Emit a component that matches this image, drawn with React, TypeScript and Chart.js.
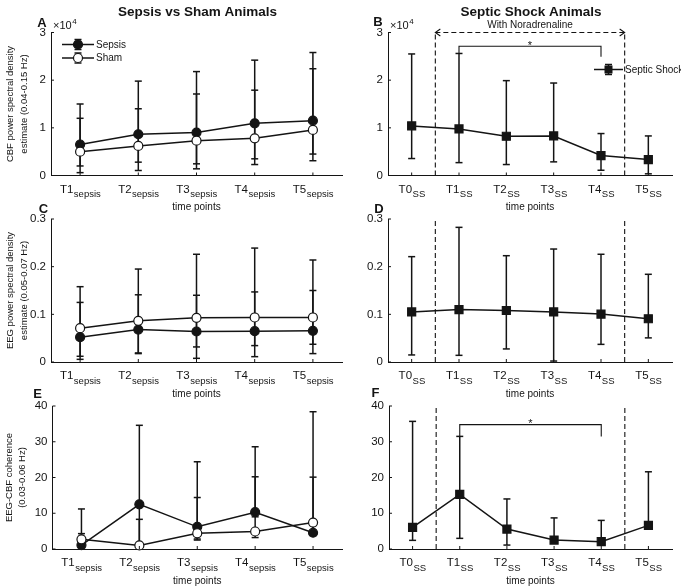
import React, { useEffect, useRef } from 'react';
import { Chart, registerables } from 'chart.js';
Chart.register(...registerables);

const W = 681;
const H = 587;
const FONT = '"Liberation Sans", Arial, Helvetica, sans-serif';
const INK = '#141414';
const Y_AXIS_W = 40;

// ---------- categories / tick labels ----------
const sepsisTimes = ['T1', 'T2', 'T3', 'T4', 'T5'];
const shockTimes = ['T0', 'T1', 'T2', 'T3', 'T4', 'T5'];
const sepsisSub = 'sepsis';
const shockSub = 'SS';
const cbfTicks = [0, 1, 2, 3];
const eegTicks = [0, 0.1, 0.2, 0.3];
const cohTicks = [0, 10, 20, 30, 40];
const noradrenalineWindow = [0.5, 4.5];

// ---------- A: CBF PSD (x10^4), sepsis vs sham ----------
const cbfSepsisMean = [0.65, 0.865, 0.9, 1.095, 1.15];
const cbfSepsisLow = [0.06, 0.28, 0.245, 0.35, 0.45];
const cbfSepsisHigh = [1.5, 1.98, 2.18, 2.42, 2.58];
const cbfShamMean = [0.5, 0.62, 0.73, 0.78, 0.956];
const cbfShamLow = [0.2, 0.105, 0.14, 0.23, 0.31];
const cbfShamHigh = [1.2, 1.4, 1.71, 1.79, 2.24];

// ---------- B: CBF PSD (x10^4), septic shock ----------
const cbfShockMean = [1.04, 0.977, 0.823, 0.83, 0.419, 0.335];
const cbfShockLow = [0.356, 0.27, 0.23, 0.286, 0.11, 0.035];
const cbfShockHigh = [2.55, 2.56, 1.99, 1.94, 0.88, 0.83];

// ---------- C: EEG PSD, sepsis vs sham ----------
const eegSepsisMean = [0.052, 0.068, 0.064, 0.0646, 0.0653];
const eegSepsisLow = [0.0056, 0.0176, 0.0077, 0.0112, 0.0176];
const eegSepsisHigh = [0.125, 0.141, 0.14, 0.147, 0.15];
const eegShamMean = [0.071, 0.0864, 0.0927, 0.0934, 0.0934];
const eegShamLow = [0.012, 0.019, 0.0316, 0.0344, 0.0372];
const eegShamHigh = [0.158, 0.195, 0.226, 0.239, 0.214];

// ---------- D: EEG PSD, septic shock ----------
const eegShockMean = [0.105, 0.11, 0.108, 0.105, 0.1005, 0.0907];
const eegShockLow = [0.0148, 0.014, 0.0274, 0.002, 0.037, 0.0506];
const eegShockHigh = [0.221, 0.2825, 0.223, 0.237, 0.226, 0.184];

// ---------- E: EEG-CBF coherence, sepsis vs sham ----------
const cohSepsisMean = [1.1, 12.5, 6.2, 10.3, 4.55];
const cohSepsisLow = [0.6, 0.9, 2.5, 9.0, 3.8];
const cohSepsisHigh = [4.3, 34.6, 24.4, 28.6, 20.1];
const cohShamMean = [2.7, 1.0, 4.4, 4.9, 7.4];
const cohShamLow = [2.0, 0.5, 2.8, 3.2, 4.2];
const cohShamHigh = [11.2, 8.3, 14.4, 20.2, 38.4];

// ---------- F: EEG-CBF coherence, septic shock ----------
const cohShockMean = [6.05, 15.26, 5.58, 2.51, 2.05, 6.6];
const cohShockLow = [2.42, 2.98, 1.1, 2.2, 1.4, 6.6];
const cohShockHigh = [35.7, 31.5, 14.0, 8.7, 8.0, 21.6];

// significance brackets (category from/to, bracket level, leg ends)
const bracketB = { from: 1, to: 4, level: 2.71, leftEnd: 2.56, rightEnd: 2.49 };
const bracketF = { from: 1, to: 4, level: 34.8, leftEnd: 31.5, rightEnd: 31.5 };

type Marker = 'filled' | 'open' | 'square';
interface Series { label: string; mean: number[]; low: number[]; high: number[]; marker: Marker; }
interface Panel {
  key: string;
  box: { l: number; t: number; r: number; b: number };
  times: string[];
  sub: string;
  ticks: number[];
  series: Series[];
  yTitle?: string[];
  yTitleX?: number[];
  exponent?: boolean;
  window?: number[];
  arrow?: boolean;
  bracket?: { from: number; to: number; level: number; leftEnd: number; rightEnd: number };
  legend?: 'pair' | 'single';
  heading?: string;
  letterPos: number[];
}

const sepsis = (mean: number[], low: number[], high: number[]): Series => ({ label: 'Sepsis', mean, low, high, marker: 'filled' });
const sham = (mean: number[], low: number[], high: number[]): Series => ({ label: 'Sham', mean, low, high, marker: 'open' });
const shock = (mean: number[], low: number[], high: number[]): Series => ({ label: 'Septic Shock', mean, low, high, marker: 'square' });

const panels: Panel[] = [
  {
    key: 'A', box: { l: 51, t: 32.5, r: 342, b: 175.5 }, times: sepsisTimes, sub: sepsisSub, ticks: cbfTicks,
    series: [sham(cbfShamMean, cbfShamLow, cbfShamHigh), sepsis(cbfSepsisMean, cbfSepsisLow, cbfSepsisHigh)],
    yTitle: ['CBF power spectral density', 'estimate (0.04-0.15 Hz)'], yTitleX: [10, 24],
    exponent: true, legend: 'pair', heading: 'Sepsis vs Sham Animals', letterPos: [42, 23.5],
  },
  {
    key: 'B', box: { l: 388, t: 32.5, r: 672, b: 175.5 }, times: shockTimes, sub: shockSub, ticks: cbfTicks,
    series: [shock(cbfShockMean, cbfShockLow, cbfShockHigh)],
    exponent: true, window: noradrenalineWindow, arrow: true, bracket: bracketB, legend: 'single',
    heading: 'Septic Shock Animals', letterPos: [378, 22.5],
  },
  {
    key: 'C', box: { l: 51, t: 219, r: 342, b: 362 }, times: sepsisTimes, sub: sepsisSub, ticks: eegTicks,
    series: [sham(eegShamMean, eegShamLow, eegShamHigh), sepsis(eegSepsisMean, eegSepsisLow, eegSepsisHigh)],
    yTitle: ['EEG power spectral density', 'estimate (0.05-0.07 Hz)'], yTitleX: [10, 24], letterPos: [43.5, 209.5],
  },
  {
    key: 'D', box: { l: 388, t: 219, r: 672, b: 362 }, times: shockTimes, sub: shockSub, ticks: eegTicks,
    series: [shock(eegShockMean, eegShockLow, eegShockHigh)], window: noradrenalineWindow, letterPos: [379, 209],
  },
  {
    key: 'E', box: { l: 52.5, t: 406, r: 342, b: 549 }, times: sepsisTimes, sub: sepsisSub, ticks: cohTicks,
    series: [sham(cohShamMean, cohShamLow, cohShamHigh), sepsis(cohSepsisMean, cohSepsisLow, cohSepsisHigh)],
    yTitle: ['EEG-CBF coherence', '(0.03-0.06 Hz)'], yTitleX: [9, 22], letterPos: [37.5, 394.5],
  },
  {
    key: 'F', box: { l: 389, t: 406, r: 672, b: 549 }, times: shockTimes, sub: shockSub, ticks: cohTicks,
    series: [shock(cohShockMean, cohShockLow, cohShockHigh)], window: noradrenalineWindow, bracket: bracketF,
    letterPos: [375.5, 393.5],
  },
];

function seg(ctx: CanvasRenderingContext2D, x1: number, y1: number, x2: number, y2: number) {
  ctx.beginPath();
  ctx.moveTo(x1, y1);
  ctx.lineTo(x2, y2);
  ctx.stroke();
}

function drawMarker(ctx: CanvasRenderingContext2D, x: number, y: number, m: Marker) {
  ctx.save();
  ctx.lineWidth = 1.2;
  ctx.strokeStyle = INK;
  if (m === 'square') {
    ctx.fillStyle = INK;
    ctx.fillRect(x - 4, y - 4, 8, 8);
  } else {
    ctx.beginPath();
    ctx.arc(x, y, 4.5, 0, Math.PI * 2);
    ctx.fillStyle = m === 'open' ? '#ffffff' : INK;
    ctx.fill();
    ctx.stroke();
  }
  ctx.restore();
}

function drawLegendEntry(ctx: CanvasRenderingContext2D, x0: number, x1: number, y: number, s: Series) {
  ctx.save();
  ctx.strokeStyle = INK;
  ctx.lineWidth = 1.5;
  seg(ctx, x0, y, x1, y);
  const xm = (x0 + x1) / 2;
  seg(ctx, xm, y - 5, xm, y + 5);
  seg(ctx, xm - 3.5, y - 5, xm + 3.5, y - 5);
  seg(ctx, xm - 3.5, y + 5, xm + 3.5, y + 5);
  drawMarker(ctx, xm, y, s.marker);
  ctx.fillStyle = INK;
  ctx.font = `10px ${FONT}`;
  ctx.textAlign = 'left';
  ctx.textBaseline = 'middle';
  ctx.fillText(s.label, x1 + 2, y + 0.5);
  ctx.restore();
}

function makePlugin(p: Panel) {
  return {
    id: 'decor' + p.key,
    beforeDatasetsDraw(chart: any) {
      const { ctx, scales } = chart;
      const x = scales.x;
      const y = scales.y;
      const yMax = p.ticks[p.ticks.length - 1];
      ctx.save();
      ctx.strokeStyle = INK;
      if (p.window) {
        ctx.setLineDash([5, 3]);
        ctx.lineWidth = 1.1;
        for (const v of p.window) {
          const px = x.getPixelForValue(v);
          seg(ctx, px, y.getPixelForValue(0), px, y.getPixelForValue(yMax));
        }
        ctx.setLineDash([]);
      }
      ctx.lineWidth = 1.5;
      for (const s of p.series) {
        s.mean.forEach((_m, i) => {
          const px = x.getPixelForValue(i);
          const yl = y.getPixelForValue(s.low[i]);
          const yh = y.getPixelForValue(s.high[i]);
          seg(ctx, px, yl, px, yh);
          seg(ctx, px - 3.5, yl, px + 3.5, yl);
          seg(ctx, px - 3.5, yh, px + 3.5, yh);
        });
      }
      ctx.restore();
    },
    afterDraw(chart: any) {
      const { ctx, chartArea: ca, scales } = chart;
      const x = scales.x;
      const y = scales.y;
      const yMax = p.ticks[p.ticks.length - 1];
      ctx.save();
      ctx.strokeStyle = INK;
      ctx.fillStyle = INK;
      ctx.lineWidth = 1;
      // inward tick marks
      for (const v of p.ticks) {
        const py = y.getPixelForValue(v);
        seg(ctx, ca.left, py, ca.left + 3, py);
      }
      p.times.forEach((_t, i) => {
        const px = x.getPixelForValue(i);
        seg(ctx, px, ca.bottom, px, ca.bottom - 3);
      });
      // x tick labels with subscripts
      p.times.forEach((t, i) => {
        const px = x.getPixelForValue(i);
        ctx.font = `11.5px ${FONT}`;
        const w1 = ctx.measureText(t).width;
        ctx.font = `9.5px ${FONT}`;
        const w2 = ctx.measureText(p.sub).width;
        const start = px - (w1 + w2) / 2;
        ctx.textAlign = 'left';
        ctx.textBaseline = 'alphabetic';
        ctx.font = `11.5px ${FONT}`;
        ctx.fillText(t, start, ca.bottom + 17);
        ctx.font = `9.5px ${FONT}`;
        ctx.fillText(p.sub, start + w1 + 0.5, ca.bottom + 21.5);
      });
      // x axis title
      ctx.font = `10px ${FONT}`;
      ctx.textAlign = 'center';
      ctx.textBaseline = 'middle';
      ctx.fillText('time points', (ca.left + ca.right) / 2, ca.bottom + 32);
      // y axis title
      if (p.yTitle && p.yTitleX) {
        const yc = (ca.top + ca.bottom) / 2;
        p.yTitle.forEach((line, i) => {
          ctx.save();
          ctx.translate(p.yTitleX![i], yc);
          ctx.rotate(-Math.PI / 2);
          ctx.font = `9.5px ${FONT}`;
          ctx.textAlign = 'center';
          ctx.textBaseline = 'middle';
          ctx.fillText(line, 0, 0);
          ctx.restore();
        });
      }
      // exponent
      if (p.exponent) {
        ctx.font = `11px ${FONT}`;
        ctx.textAlign = 'left';
        ctx.textBaseline = 'middle';
        const ex = ca.left + 2;
        ctx.fillText('\u00d710', ex, ca.top - 6.5);
        const ew = ctx.measureText('\u00d710').width;
        ctx.font = `8px ${FONT}`;
        ctx.fillText('4', ex + ew + 0.5, ca.top - 10.5);
      }
      // panel letter
      ctx.font = `bold 13px ${FONT}`;
      ctx.textAlign = 'center';
      ctx.textBaseline = 'middle';
      ctx.fillText(p.key, p.letterPos[0], p.letterPos[1]);
      // heading
      if (p.heading) {
        ctx.font = `bold 13.5px ${FONT}`;
        ctx.textAlign = 'center';
        ctx.textBaseline = 'middle';
        ctx.fillText(p.heading, (ca.left + ca.right) / 2 + 1, 12.5);
      }
      // noradrenaline arrow
      if (p.arrow && p.window) {
        const xa = x.getPixelForValue(p.window[0]);
        const xb = x.getPixelForValue(p.window[1]);
        const ya = y.getPixelForValue(yMax);
        ctx.lineWidth = 1.1;
        ctx.setLineDash([5, 3]);
        seg(ctx, xa, ya, xb, ya);
        ctx.setLineDash([]);
        ctx.beginPath();
        ctx.moveTo(xa + 5, ya - 3.5);
        ctx.lineTo(xa, ya);
        ctx.lineTo(xa + 5, ya + 3.5);
        ctx.moveTo(xb - 5, ya - 3.5);
        ctx.lineTo(xb, ya);
        ctx.lineTo(xb - 5, ya + 3.5);
        ctx.stroke();
        ctx.font = `10px ${FONT}`;
        ctx.textAlign = 'center';
        ctx.textBaseline = 'middle';
        ctx.fillText('With Noradrenaline', (xa + xb) / 2, ya - 7);
      }
      // significance bracket
      if (p.bracket) {
        const bk = p.bracket;
        const x1 = x.getPixelForValue(bk.from);
        const x2 = x.getPixelForValue(bk.to);
        const yl = y.getPixelForValue(bk.level);
        ctx.lineWidth = 1.1;
        ctx.beginPath();
        ctx.moveTo(x1, y.getPixelForValue(bk.leftEnd));
        ctx.lineTo(x1, yl);
        ctx.lineTo(x2, yl);
        ctx.lineTo(x2, y.getPixelForValue(bk.rightEnd));
        ctx.stroke();
        ctx.font = `11px ${FONT}`;
        ctx.textAlign = 'center';
        ctx.textBaseline = 'alphabetic';
        ctx.fillText('*', (x1 + x2) / 2, yl + 2.5);
      }
      // legend
      if (p.legend === 'pair') {
        const order = [p.series[1], p.series[0]];
        order.forEach((s, i) => drawLegendEntry(ctx, ca.left + 11, ca.left + 43, ca.top + 12 + i * 13.5, s));
      } else if (p.legend === 'single') {
        drawLegendEntry(ctx, ca.left + 206, ca.left + 235, ca.top + 37, p.series[0]);
      }
      ctx.restore();
    },
  };
}

function PanelChart({ p }: { p: Panel }) {
  const ref = useRef<HTMLCanvasElement | null>(null);
  useEffect(() => {
    if (!ref.current) return;
    const n = p.times.length;
    const datasets = p.series.map((s) => ({
      label: s.label,
      data: s.mean.map((v, i) => ({ x: i, y: v })),
      borderColor: INK,
      borderWidth: 1.5,
      pointStyle: s.marker === 'square' ? 'rect' : 'circle',
      pointRadius: s.marker === 'square' ? 5.66 : 4.5,
      pointBackgroundColor: s.marker === 'open' ? '#ffffff' : INK,
      pointBorderColor: INK,
      pointBorderWidth: 1.2,
      tension: 0,
      fill: false,
      clip: false as any,
    }));
    const chart = new Chart(ref.current, {
      type: 'line',
      data: { datasets },
      options: {
        responsive: false,
        animation: false,
        devicePixelRatio: 1,
        events: [],
        layout: { padding: { left: p.box.l - Y_AXIS_W, top: p.box.t, right: W - p.box.r, bottom: H - p.box.b } },
        plugins: { legend: { display: false }, tooltip: { enabled: false }, title: { display: false } },
        scales: {
          x: {
            type: 'linear', min: -0.5, max: n - 0.5,
            ticks: { display: false },
            grid: { display: false, drawTicks: false },
            border: { display: true, color: INK, width: 1 },
            afterFit: (s: any) => { s.height = 0; },
          },
          y: {
            type: 'linear', min: 0, max: p.ticks[p.ticks.length - 1],
            afterBuildTicks: (s: any) => { s.ticks = p.ticks.map((v) => ({ value: v })); },
            ticks: { color: INK, font: { family: FONT, size: 11.5 }, padding: 5, callback: (v: any) => String(v) },
            grid: { display: false, drawTicks: false },
            border: { display: true, color: INK, width: 1 },
            afterFit: (s: any) => { s.width = Y_AXIS_W; },
          },
        },
      } as any,
      plugins: [makePlugin(p)],
    });
    return () => chart.destroy();
  }, [p]);
  return (
    <canvas
      ref={ref}
      width={W}
      height={H}
      style={{ position: 'absolute', left: 0, top: 0, width: W, height: H }}
    />
  );
}

export default function App() {
  useEffect(() => {
    document.body.style.margin = '0';
  }, []);
  return (
    <div style={{ position: 'absolute', left: 0, top: 0, width: W, height: H, background: '#fff', overflow: 'hidden' }}>
      {panels.map((p) => (
        <PanelChart key={p.key} p={p} />
      ))}
    </div>
  );
}
